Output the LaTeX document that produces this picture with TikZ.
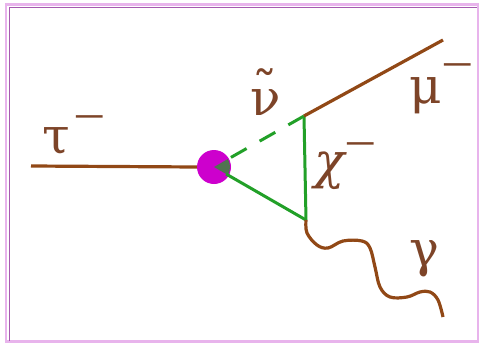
\documentclass[tikz,border=0pt]{standalone}
\usepackage{fontspec}
\setmainfont{Liberation Serif}
\newfontfamily\grk{DejaVu Serif}
\definecolor{brownc}{RGB}{145,72,22}
\definecolor{labelc}{RGB}{125,68,40}
\definecolor{greenc}{RGB}{34,160,40}
\definecolor{magc}{RGB}{205,0,205}
\definecolor{wedgec}{RGB}{80,115,80}
\definecolor{framepink}{RGB}{232,180,236}
\definecolor{framepurple}{RGB}{165,90,175}
\newcommand\supmin[1]{\raisebox{\dimexpr #1-\height+1.2pt\relax}{\scalebox{1.15}[1]{−}}}
\begin{document}
\begin{tikzpicture}[x=1pt,y=-1pt,
  brownline/.style={draw=brownc, line width=3.2pt},
  greenline/.style={draw=greenc, line width=3pt},
  lbl/.style={text=labelc, font=\fontsize{50}{60}\selectfont, inner sep=0pt, anchor=base west}]
\useasboundingbox (0,0) rectangle (479,343);
% frame
\draw[framepink, line width=2.5pt] (6,4.5) rectangle (478,341.5);
\draw[framepurple, line width=1.6pt] (9.3,341) -- (9.3,7.3) -- (477,7.3);
% points
\coordinate (tauL) at (31,166);
\node[circle, fill=magc, minimum size=34pt, inner sep=0pt] (blob) at (214,167) {};
\coordinate (vt) at (304,116);
\coordinate (vb) at (306,220);
\coordinate (muR) at (443,40);
\coordinate (gE) at (443,317);
% wedge inside blob
\fill[wedgec] (blob.center) -- ++(-30:16) arc[start angle=-30, end angle=30, radius=16] -- cycle;
% lines
\draw[brownline] (tauL) -- (blob.west);
\draw[greenline, dash pattern=on 18pt off 15pt, dash phase=0pt] (vt) -- (blob);
\draw[greenline] (blob.center) ++(30:14) -- (vb);
\draw[greenline] (vt) -- (vb);
\draw[brownline] (vt) -- (muR);
\draw[brownline] plot[smooth, tension=0.6] coordinates {(vb) (307,233) (317,245) (328,248) (343,241) (362,241) (370,248) (375,267) (380,287) (390,297) (407,297) (420,292) (430,292) (438,300) (gE)};
% labels
\node[lbl] (tau) at (42,153) {{\grk τ}\hspace{4pt}\supmin{36pt}};
\node[lbl] (nu) at (250,115) {\grk\ooalign{ν\cr\hidewidth\raisebox{8pt}{\char"02DC}\hidewidth\cr}};
\node[lbl] (mu) at (409,103) {{\grk μ}\hspace{0pt}\supmin{38pt}};
\node[lbl] (chi) at (314,178) {{\grk\itshape χ}\hspace{0pt}\supmin{34pt}};
\node[lbl] (gam) at (409,266) {\grk γ};
\end{tikzpicture}
\end{document}
